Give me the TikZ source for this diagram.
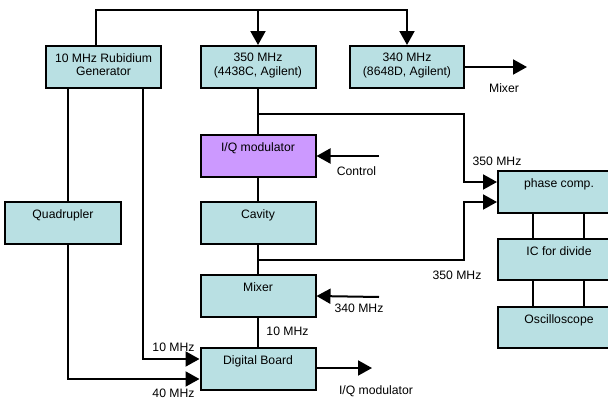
\documentclass[tikz,border=0pt]{standalone}
\usepackage{fontspec}
\setmainfont{Liberation Sans}
\usetikzlibrary{arrows.meta,calc}
\definecolor{boxteal}{RGB}{185,224,227}
\definecolor{boxpurple}{RGB}{204,153,255}
\begin{document}
\begin{tikzpicture}[x=1pt,y=-1pt,
  font=\fontsize{12.2}{13.5}\selectfont,
  box/.style={draw=black,line width=2pt,fill=boxteal,minimum width=115pt,minimum height=42pt,inner sep=0pt},
  btxt/.style={anchor=north,align=center,inner sep=0pt},
  lbl/.style={anchor=base,inner sep=0pt},
  wire/.style={draw=black,line width=2pt},
  arr/.style={wire,-{Triangle[length=14pt,width=15pt]}}]
\useasboundingbox (0,0) rectangle (608,399);
% boxes
\node[box] (rb) at (103.5,67) {};
\node[btxt] at ($(rb.north)+(0,8)$) {10 MHz Rubidium\\Generator};
\node[box] (s350) at (258,67) {};
\node[btxt] at ($(s350.north)+(0,8)$) {350 MHz\\(4438C, Agilent)};
\node[box,minimum width=114pt] (s340) at (407,67) {};
\node[btxt] at ($(s340.north)+(0,8)$) {340 MHz\\(8648D, Agilent)};
\node[box,fill=boxpurple] (iq) at (258,156) {};
\node[btxt] at ($(iq.north)+(0,8)$) {I/Q modulator};
\node[box] (cav) at (258,223) {};
\node[btxt] at ($(cav.north)+(0,8)$) {Cavity};
\node[box] (mix) at (258,296) {};
\node[btxt] at ($(mix.north)+(0,8)$) {Mixer};
\node[box] (db) at (258,369) {};
\node[btxt] at ($(db.north)+(0,8)$) {Digital Board};
\node[box,minimum width=116pt] (quad) at (63,223) {};
\node[btxt] at ($(quad.north)+(0,8)$) {Quadrupler};
\node[box,minimum width=122pt] (pc) at (559,192) {};
\node[btxt] at ($(pc.north)+(0,8)$) {phase comp.};
\node[box,minimum width=122pt,minimum height=41pt] (ic) at (559,259.5) {};
\node[btxt] at ($(ic.north)+(0,8)$) {IC for divide};
\node[box,minimum width=122pt,minimum height=41pt] (osc) at (559,327.5) {};
\node[btxt] at ($(osc.north)+(0,8)$) {Oscilloscope};
% coordinates
\coordinate (rbtop) at ($(rb.north west)+(51,0)$);
\coordinate (topr) at (258,10);
\coordinate (ctrl) at (379,156);
\coordinate (in340) at (379,297);
\coordinate (outmix) at (527,67);
\coordinate (outiq) at (372,368);
\coordinate (j1) at (258,114);
\coordinate (j2) at (258,260);
\coordinate (rbl) at ($(rb.south west)+(23,0)$);
\coordinate (rbr) at ($(rb.south west)+(98,0)$);
% top distribution
\draw[arr] (rbtop) |- (topr) -| (s340.north);
\draw[arr] (topr) -- (s350.north);
\draw[arr] (s340.east) -- (outmix);
% main chain
\draw[wire] (s350.south) -- (iq.north);
\draw[wire] (iq.south) -- (cav.north);
\draw[wire] (cav.south) -- (mix.north);
\draw[wire] (mix.south) -- (db.north);
\draw[arr] (j1) -| (464,182) -- ($(pc.west)+(0,-10)$);
\draw[arr] (j2) -| (464,202) -- ($(pc.west)+(0,10)$);
\draw[arr] (ctrl) -- (iq.east);
\draw[arr] (in340) -- (mix.east);
\draw[arr] (db.east |- outiq) -- (outiq);
% rubidium lines
\draw[wire] (rbl) -- (rbl |- quad.north);
\draw[arr] (rbr) |- ($(db.west)+(0,-10)$);
\draw[arr] (rbl |- quad.south) |- ($(db.west)+(0,10)$);
% right column
\draw[wire] (pc.south -| 533,0) -- (ic.north -| 533,0);
\draw[wire] (pc.south -| 584,0) -- (ic.north -| 584,0);
\draw[wire] (ic.south -| 533,0) -- (osc.north -| 533,0);
\draw[wire] (ic.south -| 584,0) -- (osc.north -| 584,0);
% labels
\node[lbl] (lmixer) at (504,92) {Mixer};
\node[lbl] (l350a) at (497,165) {350 MHz};
\node[lbl] (lctrl) at (356.5,175) {Control};
\node[lbl] (l350b) at (457,279) {350 MHz};
\node[lbl] (l340) at (359,312) {340 MHz};
\node[lbl] (l10a) at (287.5,335.5) {10 MHz};
\node[lbl] (l10b) at (173.5,351.5) {10 MHz};
\node[lbl] (l40) at (173.5,397) {40 MHz};
\node[lbl] (liq) at (376,394) {I/Q modulator};
\end{tikzpicture}
\end{document}
